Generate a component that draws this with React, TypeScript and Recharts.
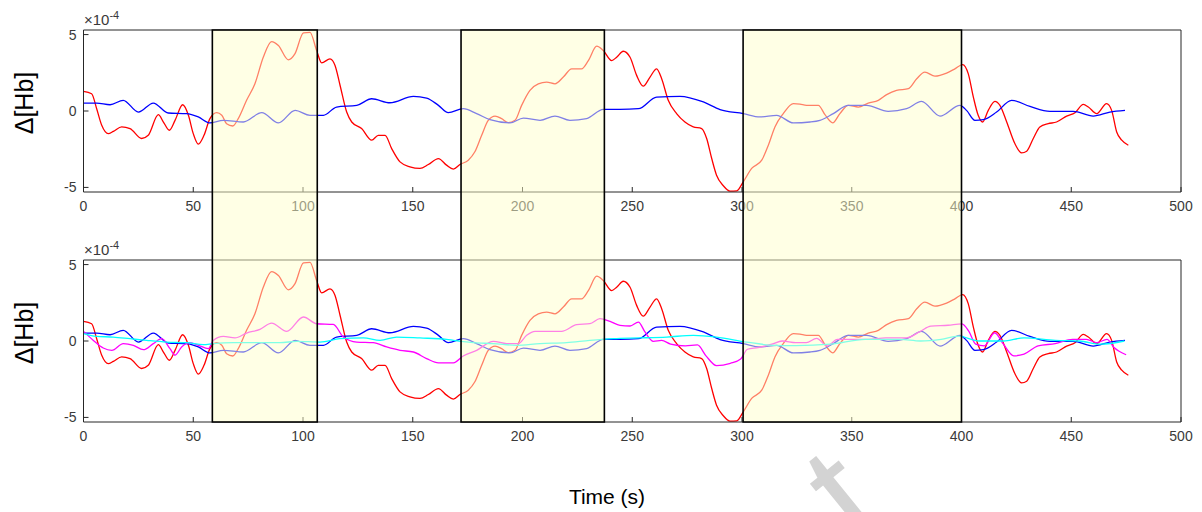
import { LineChart, Line, XAxis, YAxis, ReferenceArea } from 'recharts';

type Pt = [number, number];

// time axis (s) and Δ[Hb] axis (×10^-4)
const xTicks = [0, 50, 100, 150, 200, 250, 300, 350, 400, 450, 500];
const yTicks = [-5, 0, 5];

// stimulation blocks [start, end] in seconds
const blocks: Pt[] = [
  [58.7, 106.5],
  [172, 237.3],
  [300.5, 400],
];

// [time, value ×10^-4]
const red: Pt[] = [
  [0, 1.28], [3.7, 1.13], [6, 0.15], [8.3, -0.93], [11.3, -1.48], [13.6, -1.33], [17.4, -1.04], [21.2, -1.15],
  [26.5, -1.8], [29.5, -1.59], [34.1, -0.24], [36.4, -0.72], [39.1, -1.26], [41.7, -0.61], [45.2, 0.41], [47.8, -0.28],
  [50, -1.48], [52.3, -2.17], [54.9, -1.59], [57.6, -0.5], [60.7, -0.11], [63, -0.28], [65.2, -0.83], [68, -0.98],
  [70.5, -0.5], [74.3, 0.7], [78.1, 1.78], [81.9, 3.52], [85.7, 4.54], [88.8, 4.28], [93.3, 3.35], [96.3, 3.74],
  [100.2, 5.11], [103.2, 5.15], [106.2, 3.96], [108.5, 3.15], [112.3, 3.41], [114.6, 2.98], [116.9, 1.67], [119.9, -0.07],
  [122.2, -0.72], [126.7, -1.15], [131.3, -1.91], [134.3, -1.59], [137.4, -1.59], [140.4, -2.46], [144.2, -3.33], [148.7, -3.65],
  [153.3, -3.76], [157.1, -3.5], [161.7, -3.11], [165.4, -3.54], [168.5, -3.8], [171.5, -3.5], [175.3, -3.22], [178.3, -2.67],
  [181.4, -1.59], [184.4, -0.61], [187.5, -0.33], [190.5, -0.5], [193.5, -0.76], [196.6, -0.61], [199.6, 0.37], [203.4, 1.35],
  [207.2, 1.78], [211, 1.89], [214.8, 1.78], [218.6, 2.22], [222.4, 2.76], [226.9, 2.76], [230, 3.3], [233.8, 4.24],
  [236.8, 3.96], [240.6, 3.3], [242.9, 3.52], [245.9, 3.91], [249, 3.52], [252, 2.33], [255, 1.63], [258.1, 2.22],
  [261.1, 2.76], [263.4, 2.11], [266.4, 0.7], [270.2, -0.17], [274, -0.72], [277.8, -1.04], [281.6, -1.15], [283.9, -1.8],
  [286.2, -3.11], [288.4, -4.2], [291.5, -4.89], [294.5, -5.24], [297.6, -5.22], [300.6, -4.63], [304.4, -3.76], [309, -3.22],
  [312, -2.24], [315, -1.04], [318.8, -0.17], [323.4, 0.48], [326.4, 0.45], [329.4, 0.37], [334.8, 0.37], [337.8, -0.24],
  [341.3, -0.78], [344.6, -0.17], [348.4, 0.37], [353, 0.26], [357.5, 0.52], [362.1, 0.7], [365.9, 1.07], [370.4, 1.35],
  [375.8, 1.46], [379.6, 2.11], [383.3, 2.54], [387.9, 2.28], [393.2, 2.48], [397, 2.76], [400.5, 3.04], [403.1, 2.43],
  [405.4, 0.91], [407.6, -0.28], [409.6, -0.72], [412.2, 0.04], [415.2, 0.63], [417.5, 0.37], [420.6, -0.72], [424.3, -2.13],
  [427.4, -2.74], [429.7, -2.63], [432.7, -1.8], [435.7, -1.04], [439.5, -0.83], [443.3, -0.72], [447.9, -0.33], [451.7, -0.11],
  [455.5, 0.43], [457.8, 0.26], [461.6, -0.17], [466.1, 0.48], [468.4, 0.04], [470.7, -1.37], [473, -1.91], [476, -2.24],
];

const blue: Pt[] = [
  [0, 0.52], [6, 0.52], [12.1, 0.41], [18.1, 0.7], [25, -0.07], [31.8, 0.52], [38.6, -0.13], [47, -0.17],
  [52.3, -0.39], [57.6, -0.78], [63.7, -0.61], [72.8, -0.72], [81.2, -0.11], [88.8, -0.78], [96.4, 0.04], [103.2, -0.28],
  [109.3, -0.28], [115.3, 0.26], [124.5, 0.37], [131.3, 0.8], [139.6, 0.54], [150.3, 0.96], [156.3, 0.85], [161.7, 0.37],
  [166.2, -0.11], [173, 0.15], [179.1, -0.17], [185.2, -0.57], [194.3, -0.78], [200.4, -0.46], [208, -0.61], [214.8, -0.33],
  [221.6, -0.61], [229.2, -0.5], [236.8, 0.11], [244.4, 0.11], [252.8, 0.15], [261.1, 0.91], [271.7, 0.96], [282.4, 0.59],
  [290, 0.09], [300.6, -0.17], [308.2, -0.39], [315.8, -0.28], [323.4, -0.78], [331, -0.72], [335.5, -0.61], [341.6, -0.17],
  [348.4, 0.37], [356.8, 0.37], [366.6, -0.02], [375, 0.15], [381.8, 0.63], [390.2, -0.33], [399.3, 0.37], [402.3, 0.04],
  [406.1, -0.61], [409.9, -0.57], [416, -0.07], [422.8, 0.7], [431.2, 0.3], [440.3, -0.02], [450.9, -0.02], [460, -0.33],
  [467.6, -0.07], [474.5, 0.04],
];

const magenta: Pt[] = [
  [0, 0.63], [4.5, 0.04], [9, -0.46], [12.9, -0.61], [18.1, -0.17], [22.7, -0.28], [27.3, -0.57], [31.8, -0.17],
  [35.6, 0.15], [39.4, -0.5], [41.7, -0.93], [44.7, -0.39], [48.5, -0.11], [52.3, -0.28], [56.9, -0.5], [59.1, 0.04],
  [63.7, 0.3], [69, 0.2], [74.3, 0.52], [80.4, 0.76], [85.7, 1.17], [92.6, 0.63], [100.2, 1.57], [106.2, 1.13],
  [113.8, 1.09], [118.4, 0.26], [124.5, -0.07], [132, -0.11], [138.1, -0.39], [144.2, -0.61], [150.3, -0.72], [156.3, -1.15],
  [161.7, -1.43], [168.5, -1.43], [173, -0.98], [179.1, -0.61], [186.7, -0.02], [192.8, -0.17], [198.1, -0.17], [201.9, 0.37],
  [205.7, 0.63], [211, 0.63], [217.8, 0.63], [224.7, 1.07], [230.7, 1.13], [235.3, 1.46], [239.9, 1.28], [244.4, 1.02],
  [249, 0.98], [252.8, 1.24], [255.8, 0.59], [259.6, -0.02], [263.4, 0.04], [267.5, -0.2], [274.2, -0.32], [279.7, -0.26],
  [283.6, -0.97], [288.4, -1.61], [294.7, -1.46], [299.4, -1.18], [302.5, -0.54], [307.3, -0.43], [313.6, -0.21], [318.3, 0],
  [324.6, -0.11], [329.3, -0.11], [334, 0.17], [338.8, -0.32], [343.5, 0.11], [349.8, 0.11], [357.7, 0.11], [365.5, 0.21],
  [375, 0.21], [381.3, 0.64], [386, 0.97], [393.9, 1.03], [400.2, 1.12], [403.3, 0.64], [406.5, -0.21], [410.4, -0.32],
  [415.1, 0.54], [419.1, -0.21], [423.8, -0.97], [428.5, -0.86], [434.9, -0.32], [442.7, -0.17], [450.6, 0.11], [456.9, 0.11],
  [461.6, -0.11], [466.3, 0.11], [469.5, -0.43], [475, -0.9],
];

const cyan: Pt[] = [
  [0, 0.48], [6, 0.3], [13.6, 0.26], [21.2, 0.15], [28.8, 0.04], [37.9, -0.07], [47, -0.11], [54.6, -0.24],
  [59.1, -0.17], [68.3, -0.11], [80.4, -0.11], [89.5, -0.11], [97.1, -0.02], [107.8, -0.07], [116.9, 0.15], [127.5, 0.2],
  [135.1, 0.04], [142.7, 0.26], [153.3, 0.2], [165.4, 0.11], [168.5, 0.04], [177.6, -0.11], [186.7, -0.17], [197.3, -0.28],
  [208, -0.17], [220.1, -0.11], [230.7, 0.04], [241.4, 0.15], [253.5, 0.2], [265.7, 0.26], [277.8, 0.37], [288.4, 0.26],
  [302.1, -0.07], [314.3, -0.28], [324.6, -0.3], [340.3, -0.21], [356.1, 0.11], [371.8, 0.11], [381.3, 0], [390.7, 0.11],
  [398.6, 0.32], [408.1, 0], [419.1, 0], [428.5, 0.21], [442.7, 0.04], [453.7, 0], [463.2, -0.21], [474.2, 0],
];

const FONT = '"Liberation Sans", Arial, sans-serif';
const AXIS = '#262626';
const TICK = '#3a3a3a';
const W = 1202;
const LEFT = 83.5;
const RIGHT = 20;

interface Series { name: string; pts: Pt[]; color: string }

const topSeries: Series[] = [
  { name: 'red', pts: red, color: '#ff0000' },
  { name: 'blue', pts: blue, color: '#0000ff' },
];
const bottomSeries: Series[] = [
  ...topSeries,
  { name: 'magenta', pts: magenta, color: '#ff00ff' },
  { name: 'cyan', pts: cyan, color: '#00ffff' },
];

const toRows = (pts: Pt[]) => pts.map(([t, v]) => ({ t, v }));

const HbLabel = (p: any) => {
  const vb = p.viewBox || { y: 30, height: 162 };
  const cy = vb.y + vb.height / 2 - 8;
  return (
    <text x={24} y={cy} transform={`rotate(-90 24 ${cy})`} textAnchor="middle" dominantBaseline="central"
      fontSize={25} fontFamily={FONT} fill="#000">Δ[Hb]</text>
  );
};

const ExpLabel = () => (
  <text x={84} y={25} fontSize={15} fontFamily={FONT} fill={TICK}>
    ×10<tspan dy={-6} fontSize={11}>-4</tspan>
  </text>
);

const TimeLabel = () => (
  <text x={607} y={266} textAnchor="middle" dominantBaseline="central" fontSize={21} fontFamily={FONT} fill="#000">Time (s)</text>
);

const Panel = ({ series, height, xHeight, withTime }: { series: Series[]; height: number; xHeight: number; withTime?: boolean }) => (
  <LineChart width={W} height={height} margin={{ top: 29, right: RIGHT, bottom: 0, left: 0 }}>
    <XAxis xAxisId="b" dataKey="t" type="number" domain={[0, 500]} ticks={xTicks} interval={0} allowDataOverflow
      height={xHeight} tickSize={-5} tickMargin={14} axisLine={{ stroke: AXIS }} tickLine={{ stroke: AXIS }}
      tick={{ fill: TICK, fontSize: 14, fontFamily: FONT }} label={withTime ? { content: TimeLabel } : undefined} />
    <XAxis xAxisId="t" orientation="top" dataKey="t" type="number" domain={[0, 500]} ticks={xTicks} interval={0}
      allowDataOverflow height={1} tickSize={-5} tick={false} axisLine={{ stroke: AXIS }} tickLine={{ stroke: AXIS }}
      label={{ content: ExpLabel }} />
    <YAxis yAxisId="l" type="number" domain={[-5.3, 5.3]} ticks={yTicks} interval={0} allowDataOverflow width={LEFT}
      tickSize={-5} tickMargin={12} axisLine={{ stroke: AXIS }} tickLine={{ stroke: AXIS }}
      tick={{ fill: TICK, fontSize: 14, fontFamily: FONT }} label={{ content: HbLabel }} />
    <YAxis yAxisId="r" orientation="right" type="number" domain={[-5.3, 5.3]} ticks={yTicks} interval={0}
      allowDataOverflow width={1} tickSize={-5} tick={false} axisLine={{ stroke: AXIS }} tickLine={{ stroke: AXIS }} />
    {series.map((s) => (
      <Line key={s.name} xAxisId="b" yAxisId="l" data={toRows(s.pts)} dataKey="v" type="monotone" stroke={s.color}
        strokeWidth={1.3} dot={false} activeDot={false} isAnimationActive={false} />
    ))}
  </LineChart>
);

// stimulus blocks drawn across both panels, on top of the traces
const Blocks = () => (
  <LineChart width={W} height={512} margin={{ top: 30, right: RIGHT + 1, bottom: 90, left: LEFT }}>
    <XAxis dataKey="t" type="number" domain={[0, 500]} hide allowDataOverflow />
    <YAxis type="number" domain={[0, 1]} hide allowDataOverflow />
    {blocks.map(([a, b]) => (
      <ReferenceArea key={a} x1={a} x2={b} y1={0} y2={1} fill="#ffffcc" fillOpacity={0.5}
        stroke="#000" strokeWidth={1.6} ifOverflow="visible" />
    ))}
  </LineChart>
);

export default function App() {
  return (
    <div style={{ position: 'relative', width: W, height: 512, overflow: 'hidden', background: '#fff' }}>
      <style>{'body{margin:0}'}</style>
      <div style={{ position: 'absolute', left: 0, top: 0 }}>
        <Panel series={topSeries} height={230} xHeight={38} />
      </div>
      <div style={{ position: 'absolute', left: 0, top: 230 }}>
        <Panel series={bottomSeries} height={282} xHeight={90} withTime />
      </div>
      <div style={{ position: 'absolute', left: 0, top: 0 }}>
        <Blocks />
      </div>
      <div style={{ position: 'absolute', left: 778, top: 448, fontSize: 150, lineHeight: 1, fontFamily: FONT,
        color: '#d3d3d3', transform: 'rotate(-39deg)', transformOrigin: '0 0', pointerEvents: 'none' }}>t</div>
    </div>
  );
}
